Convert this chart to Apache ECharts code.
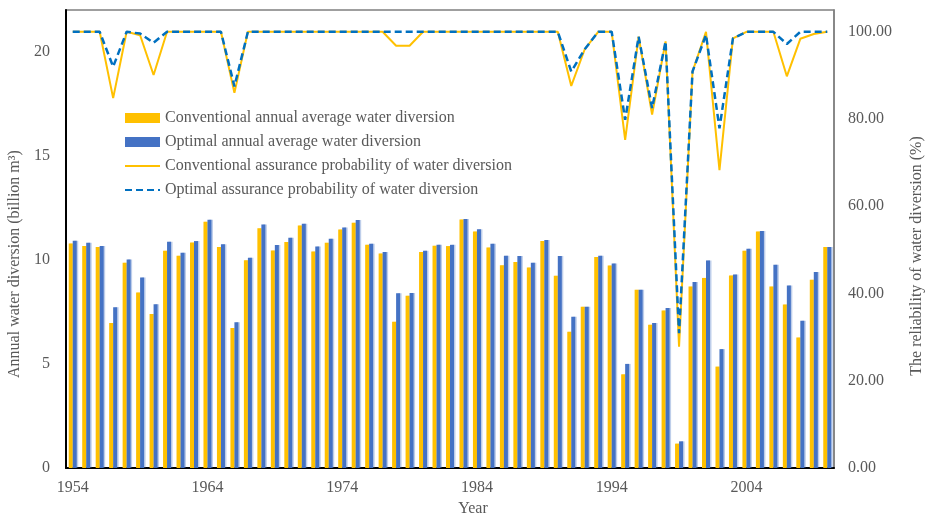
<!DOCTYPE html>
<html>
<head>
<meta charset="utf-8">
<script src="https://cdn.jsdelivr.net/npm/echarts@6/dist/echarts.min.js"></script>
<style>
  html, body { margin: 0; padding: 0; background: #fff; }
  #chart { width: 929px; height: 515px; }
</style>
</head>
<body>
<div id="chart"></div>
<script>
// Years 1954–2010
var years = [];
for (var y = 1954; y <= 2010; y++) years.push(String(y));

// Annual average water diversion (billion m3)
var conventionalDiversion = [
  10.78, 10.66, 10.62, 6.96, 9.86, 8.43, 7.40, 10.43, 10.19, 10.83,
  11.83, 10.62, 6.73, 9.98, 11.52, 10.45, 10.85, 11.65, 10.40, 10.82,
  11.46, 11.78, 10.72, 10.30, 7.02, 8.27, 10.38, 10.67, 10.66, 11.94,
  11.36, 10.59, 9.74, 9.90, 9.63, 10.90, 9.23, 6.54, 7.74, 10.14,
  9.73, 4.50, 8.56, 6.88, 7.56, 1.17, 8.72, 9.13, 4.87, 9.25,
  10.43, 11.36, 8.72, 7.85, 6.27, 9.04, 10.62
];
var optimalDiversion = [
  10.91, 10.82, 10.66, 7.72, 10.02, 9.15, 7.87, 10.87, 10.34, 10.90,
  11.92, 10.75, 7.00, 10.10, 11.70, 10.71, 11.06, 11.73, 10.64, 11.01,
  11.55, 11.91, 10.77, 10.38, 8.40, 8.41, 10.43, 10.72, 10.72, 11.96,
  11.47, 10.77, 10.19, 10.18, 9.86, 10.95, 10.18, 7.26, 7.74, 10.19,
  9.82, 5.00, 8.56, 6.96, 7.69, 1.28, 8.94, 9.97, 5.71, 9.29,
  10.53, 11.39, 9.76, 8.77, 7.07, 9.42, 10.62
];

// Assurance probability of water diversion (%)
var conventionalAssurance = [
  100, 100, 100, 84.8, 100, 99.2, 90.1, 100, 100, 100,
  100, 100, 86.0, 100, 100, 100, 100, 100, 100, 100,
  100, 100, 100, 100, 96.8, 96.8, 100, 100, 100, 100,
  100, 100, 100, 100, 100, 100, 100, 87.6, 96.0, 100,
  100, 75.2, 98.9, 81.0, 97.8, 27.8, 90.9, 100, 68.3, 98.5,
  100, 100, 100, 89.8, 98.4, 99.5, 100
];
var optimalAssurance = [
  100, 100, 100, 92.0, 100, 99.6, 97.5, 100, 100, 100,
  100, 100, 87.5, 100, 100, 100, 100, 100, 100, 100,
  100, 100, 100, 100, 100, 100, 100, 100, 100, 100,
  100, 100, 100, 100, 100, 100, 100, 90.9, 96.0, 100,
  100, 79.8, 98.9, 82.5, 97.8, 30.9, 90.9, 99.3, 77.9, 98.5,
  100, 100, 100, 97.2, 100, 100, 100
];

var leftTicks = { min: 0, max: 22, interval: 5 };
var rightTicks = { min: 0, max: 105, interval: 20 };

var FONT = '"Liberation Serif", "Times New Roman", serif';
var GREY = '#595959';
var FS = 16;

var chart = echarts.init(document.getElementById('chart'));
chart.setOption({
  animation: false,
  textStyle: { fontFamily: FONT },
  grid: {
    left: 66, right: 95, top: 10, bottom: 47,
    outerBoundsMode: 'none',
    containLabel: false,
    show: true, borderColor: '#808080', borderWidth: 1.5
  },
  legend: {
    orient: 'vertical',
    left: 119, top: 105,
    itemWidth: 35, itemHeight: 10, itemGap: 8,
    textStyle: { fontFamily: FONT, fontSize: FS, color: GREY },
    data: [
      { name: 'Conventional annual average water diversion', icon: 'rect' },
      { name: 'Optimal annual average water diversion', icon: 'rect' },
      { name: 'Conventional assurance probability of water diversion', itemStyle: { opacity: 0 } },
      { name: 'Optimal assurance probability of water diversion', itemStyle: { opacity: 0 } }
    ]
  },
  xAxis: {
    type: 'category',
    data: years,
    name: 'Year',
    nameLocation: 'middle',
    nameGap: 32,
    nameTextStyle: { fontFamily: FONT, fontSize: FS, color: GREY, padding: [0, 0, 0, 46] },
    axisLine: { lineStyle: { color: '#000', width: 2 } },
    axisTick: { show: false },
    axisLabel: { interval: 9, margin: 12, fontFamily: FONT, fontSize: FS, color: GREY }
  },
  yAxis: [
    {
      type: 'value',
      min: leftTicks.min, max: leftTicks.max, interval: leftTicks.interval,
      name: 'Annual water diversion (billion m\u00B3)',
      nameLocation: 'middle',
      nameRotate: 90,
      nameGap: 43,
      nameTextStyle: { fontFamily: FONT, fontSize: FS, color: GREY, padding: [0, 50, 0, 0] },
      axisLine: { show: true, lineStyle: { color: '#000', width: 2 } },
      axisTick: { show: false },
      splitLine: { show: false },
      axisLabel: { showMaxLabel: false, margin: 16, fontFamily: FONT, fontSize: FS, color: GREY }
    },
    {
      type: 'value',
      position: 'right',
      min: rightTicks.min, max: rightTicks.max, interval: rightTicks.interval,
      name: 'The reliability of water diversion (%)',
      nameLocation: 'middle',
      nameRotate: 90,
      nameGap: 75,
      nameTextStyle: { fontFamily: FONT, fontSize: FS, color: GREY, padding: [0, 34, 0, 0] },
      axisLine: { show: true, lineStyle: { color: '#808080', width: 1.5 } },
      axisTick: { show: false },
      splitLine: { show: false },
      axisLabel: {
        showMaxLabel: false, margin: 14, fontFamily: FONT, fontSize: FS, color: GREY,
        formatter: function (v) { return v.toFixed(2); }
      }
    }
  ],
  series: [
    {
      name: 'Conventional annual average water diversion',
      type: 'bar', yAxisIndex: 0,
      barWidth: 4, barGap: '0%',
      itemStyle: { color: '#FFC000', shadowColor: 'rgba(255,192,0,0.35)', shadowOffsetX: 1 },
      data: conventionalDiversion
    },
    {
      name: 'Optimal annual average water diversion',
      type: 'bar', yAxisIndex: 0,
      barWidth: 4, barGap: '0%',
      itemStyle: { color: '#4472C4', shadowColor: 'rgba(68,114,196,0.35)', shadowOffsetX: 1.5 },
      data: optimalDiversion
    },
    {
      name: 'Conventional assurance probability of water diversion',
      type: 'line', yAxisIndex: 1,
      symbol: 'none',
      lineStyle: { color: '#FFC000', width: 2 },
      itemStyle: { color: '#FFC000' },
      data: conventionalAssurance
    },
    {
      name: 'Optimal assurance probability of water diversion',
      type: 'line', yAxisIndex: 1,
      symbol: 'none',
      lineStyle: { color: '#0070C0', width: 2.5, type: [7, 4] },
      itemStyle: { color: '#0070C0' },
      data: optimalAssurance
    }
  ]
});
</script>
</body>
</html>
